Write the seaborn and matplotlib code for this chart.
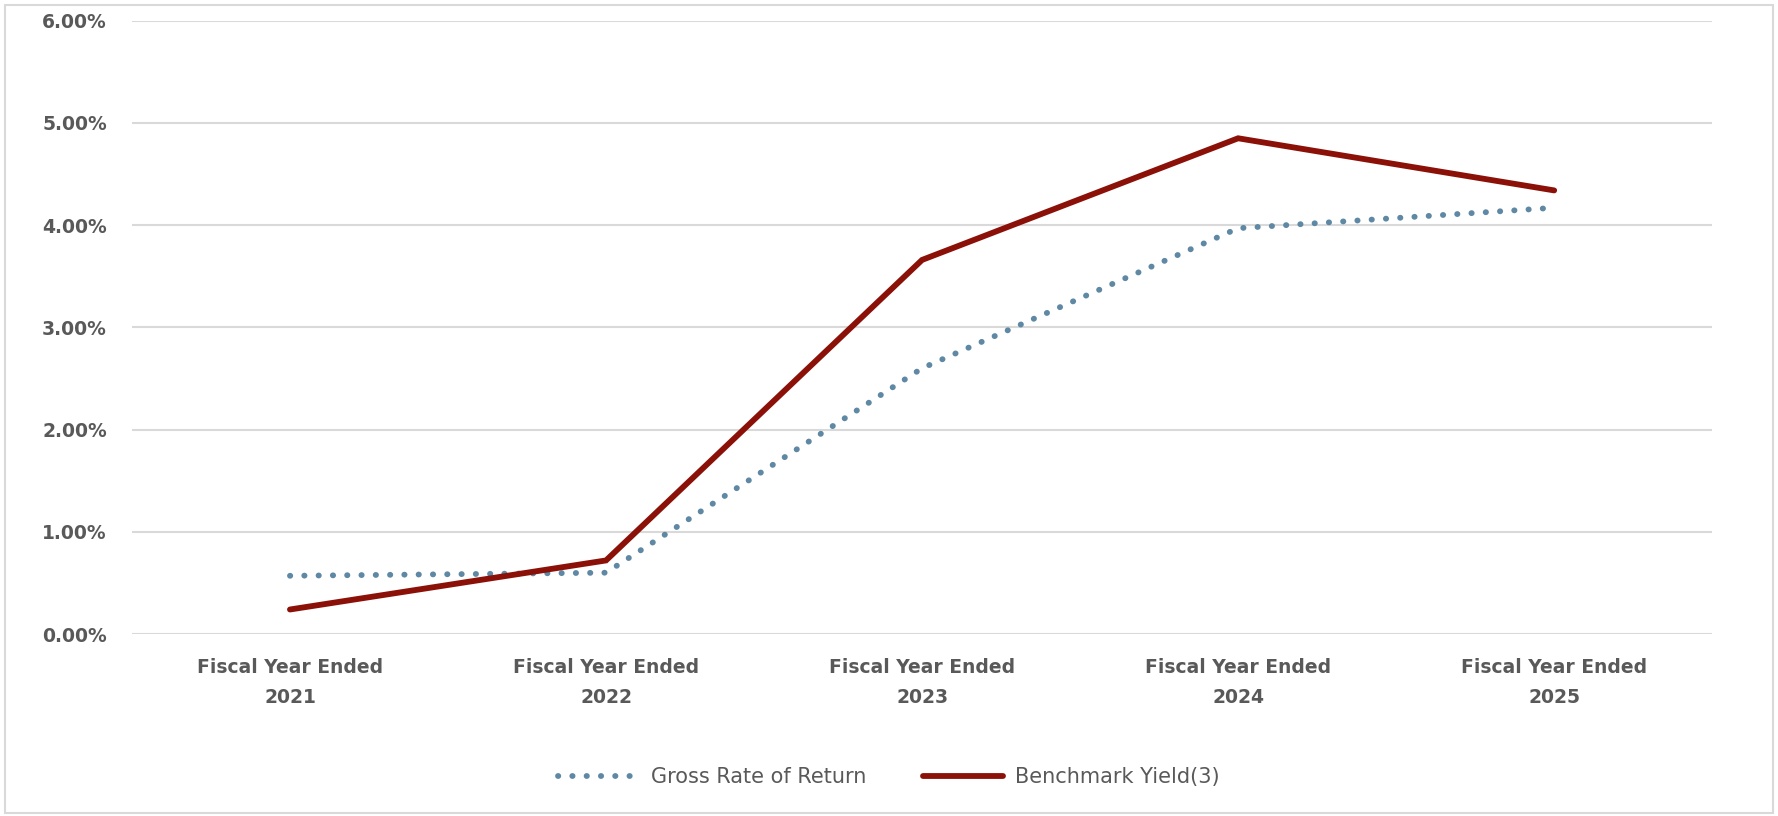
import matplotlib
matplotlib.use("Agg")
import matplotlib.pyplot as plt
import matplotlib.patches as mpatches
from matplotlib.ticker import PercentFormatter, MultipleLocator
import seaborn as sns
import pandas as pd

categories = ["Fiscal Year Ended\n2021", "Fiscal Year Ended\n2022", "Fiscal Year Ended\n2023",
              "Fiscal Year Ended\n2024", "Fiscal Year Ended\n2025"]
gross_rate = [0.57, 0.60, 2.60, 3.97, 4.17]
benchmark_yield = [0.24, 0.72, 3.66, 4.85, 4.34]
series_names = ["Gross Rate of Return", "Benchmark Yield(3)"]

sns.set_theme(style="white")
plt.rcParams['font.family'] = ['DejaVu Sans']

df = pd.DataFrame({"cat": categories, "gross": gross_rate, "bench": benchmark_yield})

fig = plt.figure(figsize=(17.78, 8.16), dpi=100)
ax = fig.add_axes([0.0742, 0.223, 0.963 - 0.0742, 0.9746 - 0.223])

sns.lineplot(data=df, x="cat", y="gross", ax=ax, color="#5E88A4", linewidth=4.2,
             linestyle=(0, (0.05, 2.4)), dash_capstyle="round", label=series_names[0],
             sort=False, legend=False)
sns.lineplot(data=df, x="cat", y="bench", ax=ax, color="#8B1108", linewidth=4.2,
             solid_capstyle="round", solid_joinstyle="miter", label=series_names[1],
             sort=False, legend=False)

ax.set_xlim(-0.5, 4.5)
ax.set_ylim(0, 6)
ax.yaxis.set_major_locator(MultipleLocator(1))
ax.yaxis.set_major_formatter(PercentFormatter(xmax=100, decimals=2))
ax.grid(axis="y", color="#D9D9D9", linewidth=1.5)
ax.set_axisbelow(True)
for s in ax.spines.values():
    s.set_visible(False)
ax.set_xlabel("")
ax.set_ylabel("")
ax.tick_params(axis="both", length=0)
ax.tick_params(axis="y", pad=18)
ax.tick_params(axis="x", pad=17)
for lbl in ax.get_yticklabels():
    lbl.set_fontsize(13.5)
    lbl.set_fontweight("bold")
    lbl.set_color("#595959")
for lbl in ax.get_xticklabels():
    lbl.set_fontsize(13.5)
    lbl.set_fontweight("bold")
    lbl.set_color("#595959")
    lbl.set_linespacing(1.75)

handles, labels = ax.get_legend_handles_labels()
leg = fig.legend(handles, labels, loc="center", bbox_to_anchor=(0.5, 0.048), ncol=2,
                 frameon=False, fontsize=15, handlelength=3.85, handletextpad=0.6,
                 columnspacing=2.7)
for t in leg.get_texts():
    t.set_color("#595959")

fig.patches.append(mpatches.Rectangle((0.003, 0.004), 0.994, 0.990, transform=fig.transFigure,
                                      fill=False, edgecolor="#D9D9D9", linewidth=1.5))

fig.savefig("out.png", dpi=100)
